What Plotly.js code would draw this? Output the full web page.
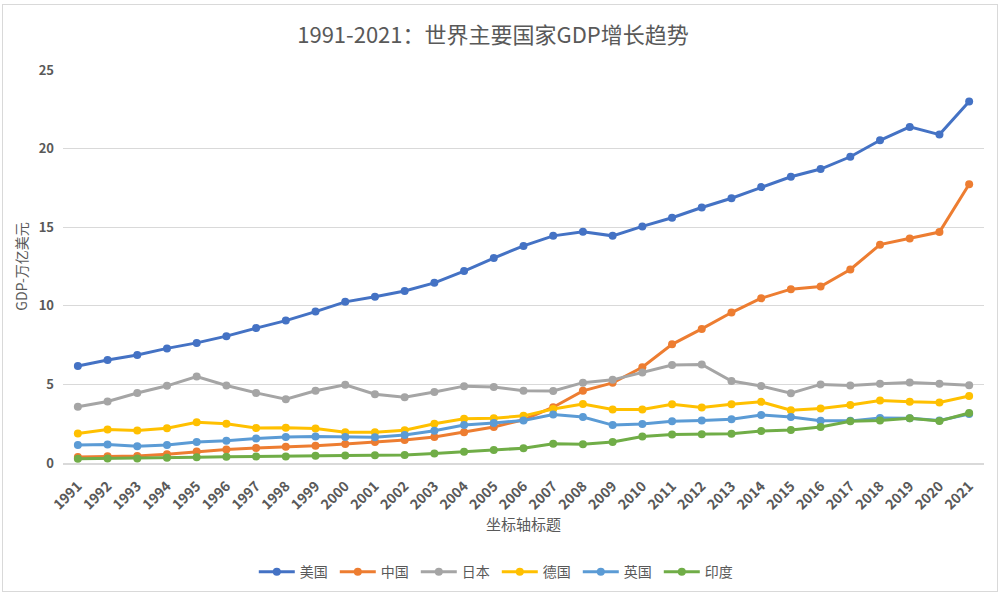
<!DOCTYPE html>
<html><head><meta charset="utf-8">
<script src="https://cdn.plot.ly/plotly-3.0.1.min.js"></script>
<style>
html,body{margin:0;padding:0;background:#fff;}
#frame{position:absolute;left:2px;top:4px;width:994px;height:586px;border:1px solid #d9d9d9;pointer-events:none;z-index:10;}
</style>
</head><body>
<div id="chart" style="width:1000px;height:593px;"></div>
<div id="frame"></div>
<script>
const years = ['1991','1992','1993','1994','1995','1996','1997','1998','1999','2000','2001','2002','2003','2004','2005','2006','2007','2008','2009','2010','2011','2012','2013','2014','2015','2016','2017','2018','2019','2020','2021'];
const usa     = [6.17,6.55,6.87,7.29,7.64,8.07,8.58,9.06,9.63,10.25,10.58,10.94,11.46,12.21,13.04,13.81,14.45,14.71,14.45,15.05,15.6,16.25,16.84,17.55,18.21,18.7,19.48,20.53,21.38,20.89,22.99];
const china   = [0.38,0.43,0.44,0.56,0.73,0.86,0.96,1.03,1.09,1.21,1.34,1.47,1.66,1.96,2.29,2.75,3.55,4.59,5.10,6.09,7.55,8.53,9.57,10.48,11.06,11.23,12.31,13.89,14.28,14.69,17.73];
const japan   = [3.58,3.91,4.45,4.91,5.50,4.93,4.46,4.06,4.60,4.97,4.37,4.18,4.52,4.89,4.83,4.60,4.58,5.11,5.29,5.76,6.23,6.27,5.21,4.90,4.44,5.00,4.93,5.04,5.12,5.04,4.94];
const germany = [1.87,2.13,2.07,2.21,2.59,2.50,2.22,2.24,2.20,1.95,1.95,2.08,2.50,2.81,2.85,3.00,3.43,3.75,3.41,3.40,3.74,3.53,3.73,3.89,3.36,3.47,3.69,3.98,3.89,3.85,4.26];
const uk      = [1.14,1.18,1.06,1.14,1.34,1.42,1.56,1.65,1.69,1.66,1.64,1.78,2.05,2.42,2.54,2.71,3.09,2.93,2.41,2.48,2.66,2.71,2.78,3.06,2.93,2.69,2.68,2.87,2.85,2.70,3.12];
const india   = [0.27,0.29,0.28,0.33,0.36,0.39,0.42,0.42,0.46,0.47,0.49,0.51,0.61,0.71,0.82,0.94,1.22,1.20,1.34,1.68,1.82,1.83,1.86,2.04,2.10,2.29,2.65,2.70,2.84,2.67,3.18];
const names  = ['美国','中国','日本','德国','英国','印度'];
const colors = ['#4472C4','#ED7D31','#A5A5A5','#FFC000','#5B9BD5','#70AD47'];
const series = [usa, china, japan, germany, uk, india];

const font = '"Noto Sans CJK SC", "Noto Sans", sans-serif';
const traces = series.map((v,i)=>({
  type:'scatter', mode:'lines+markers', name:names[i], x:years, y:v,
  line:{color:colors[i], width:3},
  marker:{color:colors[i], size:8}
}));

const layout = {
  width:1000, height:593,
  margin:{l:63, r:16, t:70, b:130},
  paper_bgcolor:'#fff', plot_bgcolor:'#fff',
  font:{family:font, color:'#595959'},
  title:{text:'1991-2021：世界主要国家GDP增长趋势', x:0.493, xanchor:'center', y:0.94, yanchor:'middle', font:{size:22, color:'#595959', family:font}},
  xaxis:{type:'category', range:[-0.5, years.length-0.5], tickangle:-45, automargin:true, ticklabelstandoff:8,
         tickfont:{size:14, color:'#595959', family:font, weight:'bold'}, showgrid:false, showline:true, linecolor:'#d9d9d9', linewidth:1.5, ticks:'',
         title:{text:'坐标轴标题', font:{size:15, color:'#595959', family:font}, standoff:6}},
  yaxis:{range:[0,25], dtick:5, automargin:true, ticklabelstandoff:8, tickfont:{size:13, color:'#595959', family:font, weight:'bold'}, gridcolor:'#d9d9d9', gridwidth:1.3, zeroline:false, showline:false, ticks:'', ticklen:0,
         title:{text:'GDP-万亿美元', font:{size:14, color:'#595959', family:font}, standoff:7}},
  legend:{orientation:'h', x:0.471, xanchor:'center', yref:'container', y:0.035, yanchor:'middle', font:{size:14, color:'#595959', family:font}, itemwidth:36, entrywidth:30},
  showlegend:true
};
Plotly.newPlot('chart', traces, layout, {displayModeBar:false, staticPlot:true});
</script>
</body></html>
